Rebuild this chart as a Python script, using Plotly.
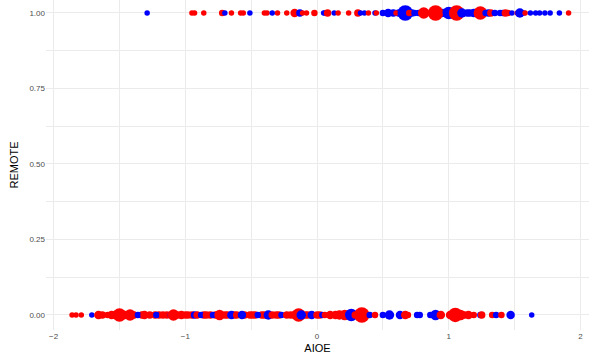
import plotly.graph_objects as go

# AIOE values, REMOTE (0/1), group colour, relative bubble weight
top_aioe = [0.58, 0.62, 0.72, 0.77, 0.95, 1.03, 1.16, 1.22, 1.30, 1.41,
            -1.29, -0.95, -0.93, -0.86, -0.72, -0.70, -0.65, -0.58, -0.56, -0.51,
            -0.40, -0.38, -0.34, -0.30, -0.23, -0.17, -0.13, -0.11, -0.08, -0.02,
            0.05, 0.06, 0.08, 0.13, 0.16, 0.24, 0.31, 0.33, 0.36, 0.39, 0.44, 0.45,
            0.50, 0.54, 0.57, 0.60, 0.67, 0.70, 0.74, 0.81, 0.90, 1.00, 1.06, 1.10,
            1.14, 1.19, 1.24, 1.28, 1.32, 1.35, 1.39, 1.43, 1.45, 1.48, 1.52, 1.54,
            1.57, 1.58, 1.62, 1.66, 1.69, 1.73, 1.77, 1.84, 1.91]
top_group = ["B", "B", "B", "B", "B", "B", "B", "B", "B", "B",
             "B", "R", "R", "R", "R", "B", "R", "R", "R", "B",
             "R", "R", "B", "R", "R", "R", "B", "R", "R", "R",
             "B", "B", "R", "B", "R", "R", "R", "B", "B", "R", "B", "R",
             "B", "B", "B", "R", "B", "R", "B", "R", "R", "B", "R", "B",
             "B", "B", "R", "B", "R", "B", "B", "R", "R", "B", "R", "B",
             "B", "R", "B", "B", "B", "B", "B", "B", "R"]
top_weight = [3, 3, 3, 2, 4, 3, 3, 3, 3, 2,
              1, 1, 1, 1, 2, 1, 1, 1, 1, 1,
              1, 1, 1, 1, 1, 4, 3, 1, 1, 2,
              1, 1, 3, 1, 1, 1, 3, 1, 1, 1, 1, 1,
              2, 4, 2, 1, 11, 2, 2, 7, 11, 8, 11, 5,
              3, 4, 9, 2, 3, 2, 2, 3, 2, 1, 1, 5,
              1, 1, 1, 1, 1, 1, 1, 1, 1]

bot_aioe = [-1.63, -1.53, -1.46, -1.39, -1.33, -1.20, -1.14, -1.06, -1.00, -0.95,
            -0.86, -0.81, -0.77, -0.70, -0.68, -0.63, -0.55, -0.49, -0.42, -0.40,
            -0.31, -0.29, -0.20, -0.17, -0.09, -0.07, 0.02, 0.10, 0.24, 0.31,
            1.01, 1.15,
            -1.86, -1.83, -1.79, -1.71, -1.66, -1.59, -1.56, -1.50, -1.42, -1.36,
            -1.31, -1.27, -1.23, -1.22, -1.17, -1.11, -1.09, -1.03, -0.98, -0.93,
            -0.91, -0.88, -0.84, -0.79, -0.74, -0.65, -0.61, -0.57, -0.51, -0.47,
            -0.45, -0.37, -0.34, -0.27, -0.23, -0.14, -0.12, -0.04, 0.00, 0.04,
            0.06, 0.14, 0.17, 0.21, 0.26, 0.29, 0.34, 0.40, 0.44, 0.50, 0.55,
            0.63, 0.67, 0.69, 0.76, 0.78, 0.86, 0.90, 0.94, 1.05, 1.09, 1.12,
            1.19, 1.24, 1.25, 1.33, 1.36, 1.40, 1.47, 1.63]
bot_group = ["R", "R", "R", "R", "R", "R", "R", "R", "R", "R",
             "R", "R", "R", "R", "R", "R", "R", "R", "R", "R",
             "R", "R", "R", "R", "R", "R", "R", "R", "R", "R",
             "R", "R",
             "R", "R", "R", "B", "R", "R", "R", "R", "R", "B",
             "R", "R", "R", "B", "R", "B", "R", "R", "R", "B",
             "R", "B", "R", "B", "R", "B", "R", "B", "R", "R",
             "B", "B", "R", "B", "R", "R", "B", "B", "R", "B",
             "R", "R", "R", "R", "B", "R", "R", "B", "R", "B", "B",
             "B", "R", "R", "B", "B", "B", "B", "R", "R", "R", "R",
             "R", "B", "R", "R", "B", "R", "B", "B"]
bot_weight = [3, 4, 4, 3, 3, 3, 3, 3, 3, 3,
              3, 3, 3, 3, 3, 3, 3, 3, 3, 3,
              3, 3, 3, 4, 3, 3, 3, 4, 5, 4,
              4, 4,
              1, 1, 1, 1, 4, 2, 4, 9, 7, 2,
              4, 3, 3, 2, 3, 2, 7, 4, 3, 3,
              3, 2, 3, 2, 6, 4, 3, 4, 3, 3,
              2, 5, 3, 2, 3, 9, 5, 4, 3, 2,
              2, 4, 5, 6, 8, 3, 11, 2, 2, 2, 5,
              4, 4, 2, 2, 2, 2, 6, 4, 10, 6, 3,
              2, 2, 3, 2, 2, 2, 4, 1]

aioe = top_aioe + bot_aioe
remote = [1] * len(top_aioe) + [0] * len(bot_aioe)
group = top_group + bot_group
weight = top_weight + bot_weight

colour_map = {"R": "#FF0000", "B": "#0000FF"}
colours = [colour_map[g] for g in group]
sizes = [4.5 + w for w in weight]

fig = go.Figure(go.Scatter(
    x=aioe, y=remote, mode="markers",
    marker=dict(color=colours, size=sizes, line=dict(width=0), opacity=1),
    showlegend=False,
))

grid = "#EBEBEB"
tickfont = dict(family="Liberation Sans, Arial, sans-serif", size=8, color="#4D4D4D")
titlefont = dict(family="Liberation Sans, Arial, sans-serif", size=11, color="#000000")

fig.update_layout(
    width=589, height=360,
    margin=dict(l=46, r=0, t=0, b=30),
    paper_bgcolor="white", plot_bgcolor="white",
    xaxis=dict(
        range=[-2.058, 2.065], tickmode="array", tickvals=[-2, -1, 0, 1, 2],
        ticktext=["\u22122", "\u22121", "0", "1", "2"],
        showgrid=True, gridcolor=grid, gridwidth=1, zeroline=False,
        showline=False, ticks="", tickfont=tickfont,
        minor=dict(tickmode="array", tickvals=[-1.5, -0.5, 0.5, 1.5], showgrid=True,
                   gridcolor=grid, gridwidth=0.5),
        title=dict(text="AIOE", font=titlefont, standoff=4),
    ),
    yaxis=dict(
        range=[-0.0497, 1.043], tickmode="array", tickvals=[0, 0.25, 0.5, 0.75, 1.0],
        ticktext=["0.00", "0.25", "0.50", "0.75", "1.00"],
        showgrid=True, gridcolor=grid, gridwidth=1, zeroline=False,
        showline=False, ticks="", tickfont=tickfont,
        minor=dict(tickmode="array", tickvals=[0.125, 0.375, 0.625, 0.875], showgrid=True,
                   gridcolor=grid, gridwidth=0.5),
        title=dict(text="REMOTE", font=titlefont, standoff=8),
    ),
)

fig.write_html("out.html")
